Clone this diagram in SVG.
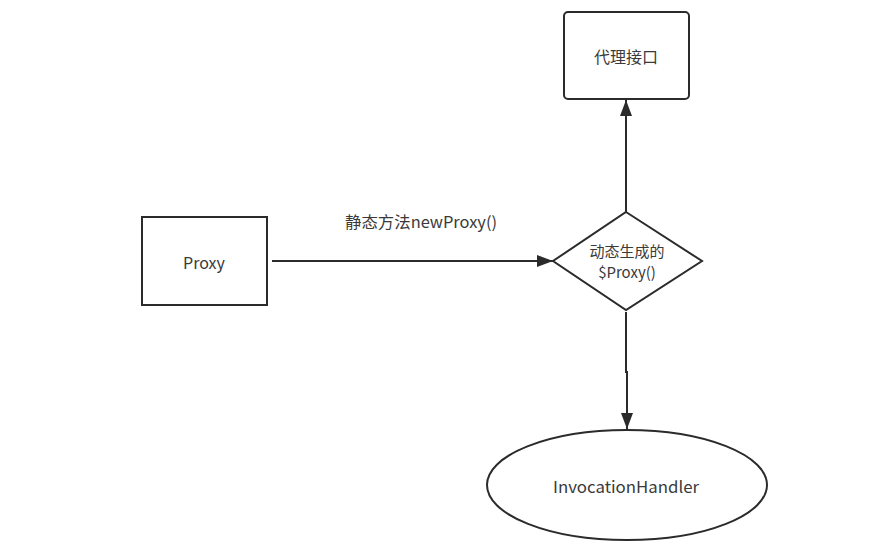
<svg xmlns="http://www.w3.org/2000/svg" width="895" height="557" viewBox="0 0 895 557">
<style>
.s{fill:#fff;stroke:#2b2b2b;stroke-width:2}
.c{fill:none;stroke:#2b2b2b;stroke-width:2}
text{font-family:"Noto Sans CJK SC","Noto Sans",sans-serif;font-size:16px;fill:#3a3a3a;text-anchor:middle;dominant-baseline:central}
.d{font-size:15px}
</style>
<defs>
<marker id="b" viewBox="0 0 16 12" refX="16" refY="6" markerWidth="16" markerHeight="12" markerUnits="userSpaceOnUse" orient="auto">
<path d="M0,0 L16,6 L0,12 Z" fill="#2b2b2b"/>
</marker>
</defs>
<rect width="895" height="557" fill="#fff"/>
<g id="connectors">
<line class="c" x1="272" y1="261" x2="553" y2="261" marker-end="url(#b)"/>
<line class="c" x1="626" y1="212" x2="626" y2="100" marker-end="url(#b)"/>
<path class="c" d="M626,312 L626,372 L627,372 L627,429" marker-end="url(#b)"/>
<text x="421" y="221" textLength="152" lengthAdjust="spacingAndGlyphs">静态方法newProxy()</text>
</g>
<g id="proxy">
<rect class="s" x="142" y="217" width="125" height="88"/>
<text x="204" y="262">Proxy</text>
</g>
<g id="iface">
<rect class="s" x="564" y="12" width="125" height="87" rx="4"/>
<text x="626" y="56">代理接口</text>
</g>
<g id="dyn">
<polygon class="s" points="626,212 702,261 626,310 553,261"/>
<text class="d" x="627" y="250.5">动态生成的</text>
<text class="d" x="627" y="271.5">$Proxy()</text>
</g>
<g id="handler">
<ellipse class="s" cx="627" cy="485" rx="140" ry="55"/>
<text x="626" y="486" textLength="146" lengthAdjust="spacingAndGlyphs">InvocationHandler</text>
</g>
</svg>
